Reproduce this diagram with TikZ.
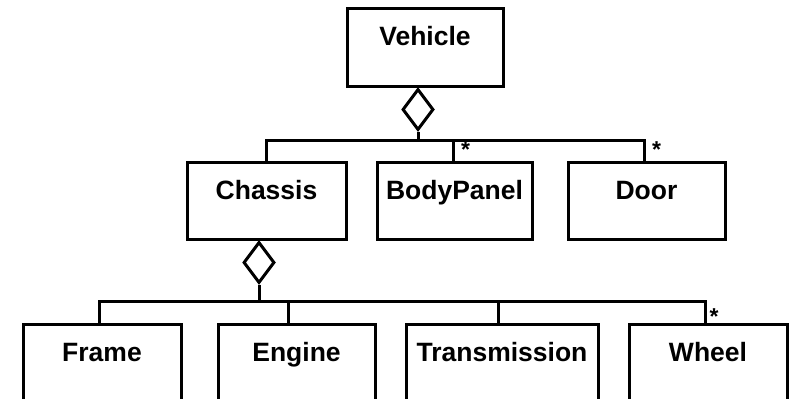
\documentclass[tikz,border=0pt]{standalone}
\usepackage{fontspec}
\setmainfont{Liberation Sans}
\usetikzlibrary{shapes.geometric}

\tikzset{
  clsname/.style={anchor=base, yshift=-39pt, font=\bfseries\fontsize{26.5}{30}\selectfont},
  cls/.style={draw, line width=3pt, minimum height=77pt, inner sep=0pt, label={[clsname]north:#1}},
  agg/.style={draw, diamond, line width=3pt, minimum width=31pt, minimum height=41pt, inner sep=0pt, anchor=north},
  link/.style={line width=3pt},
  mult/.style={font=\bfseries\fontsize{23}{23}\selectfont, inner sep=0pt, anchor=base west}
}

\begin{document}
\begin{tikzpicture}[x=1pt,y=1pt]
\useasboundingbox (0,0) rectangle (790,-399);
\clip (0,0) rectangle (790,-399);

% classes
\node[cls=Vehicle, minimum width=156pt, minimum height=78pt] (veh) at (425,-47) {};
\node[cls=Chassis, minimum width=159pt] (chs) at (266.5,-200.5) {};
\node[cls=BodyPanel, minimum width=155pt] (bp) at (454.5,-200.5) {};
\node[cls=Door, minimum width=157pt] (door) at (646.5,-200.5) {};
\node[cls=Frame, minimum width=158pt, minimum height=110pt] (frm) at (102,-379) {};
\node[cls=Engine, minimum width=157pt, minimum height=110pt] (eng) at (296.5,-379) {};
\node[cls=Transmission, minimum width=192pt, minimum height=110pt] (trn) at (502,-379) {};
\node[cls=Wheel, minimum width=158pt, minimum height=110pt] (whl) at (708,-379) {};

% aggregation diamonds
\node[agg] (vdia) at ([xshift=-7pt]veh.south) {};
\node[agg] (cdia) at ([xshift=-7.5pt]chs.south) {};
\coordinate (vbus) at ([yshift=-9pt]vdia.south);
\coordinate (cbus) at ([yshift=-17pt]cdia.south);

% vehicle parts
\draw[link] (vdia.south) -- (vbus);
\draw[link] (chs.north) |- (vbus) -| ([xshift=-2pt]door.north);
\draw[link] ([xshift=-1pt]bp.north) coordinate (bpt) -- (bpt |- vbus);
\node[mult] (mbp) at ([shift={(6.5pt,3pt)}]bp.north) {*};
\node[mult] (mdoor) at ([shift={(5.5pt,3pt)}]door.north) {*};

% chassis parts
\draw[link] (cdia.south) -- (cbus);
\draw[link] ([xshift=-3pt]frm.north) |- (cbus) -| ([xshift=-3pt]whl.north);
\draw[link] ([xshift=-8pt]eng.north) coordinate (engt) -- (engt |- cbus);
\draw[link] ([xshift=-4pt]trn.north) coordinate (trnt) -- (trnt |- cbus);
\node[mult] (mwhl) at ([shift={(1.5pt,-1.5pt)}]whl.north) {*};
\end{tikzpicture}
\end{document}
